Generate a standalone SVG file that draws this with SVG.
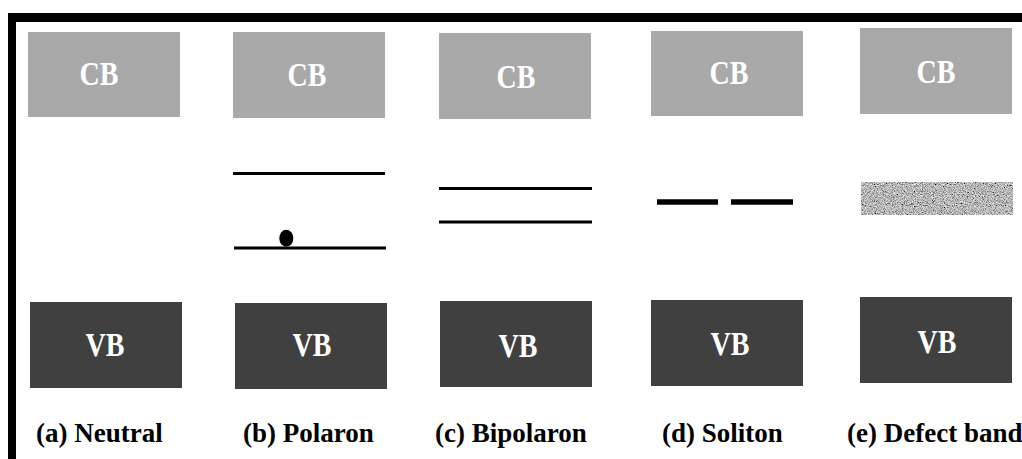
<svg xmlns="http://www.w3.org/2000/svg" width="1022" height="459" viewBox="0 0 1022 459">
<style>
.cb{fill:#a9a9a9}
.vb{fill:#404040}
.bt{font-family:"Liberation Serif","Times New Roman",serif;font-weight:bold;font-size:28px;fill:#ffffff;text-anchor:middle}
.lbl{font-family:"Liberation Serif","Times New Roman",serif;font-weight:bold;font-size:27px;fill:#000000}
.lv{stroke:#000000;stroke-width:3;fill:none}
.sol{stroke:#000000;stroke-width:5.5;fill:none}
</style>
<defs>
<filter id="noise" x="0" y="0" width="100%" height="100%">
<feTurbulence type="fractalNoise" baseFrequency="0.9" numOctaves="2" seed="7" result="t"/>
<feColorMatrix in="t" type="matrix" values="1.5 0 0 0 -0.28  1.5 0 0 0 -0.28  1.5 0 0 0 -0.28  0 0 0 0 1" result="g"/>
<feComposite in="g" in2="SourceGraphic" operator="in"/>
</filter>
</defs>
<rect width="1022" height="459" fill="#ffffff"/>
<g id="frame">
<rect x="8" y="13" width="1014" height="9" fill="#000000"/>
<rect x="8" y="13" width="8" height="446" fill="#000000"/>
</g>
<g id="cb-a"><rect class="cb" x="28" y="32" width="152" height="85"/><text class="bt" transform="translate(99,85) scale(1,1.18)">CB</text></g>
<g id="cb-b"><rect class="cb" x="233" y="32" width="152" height="86"/><text class="bt" transform="translate(307,86) scale(1,1.18)">CB</text></g>
<g id="cb-c"><rect class="cb" x="439" y="33" width="152" height="86"/><text class="bt" transform="translate(516,88) scale(1,1.18)">CB</text></g>
<g id="cb-d"><rect class="cb" x="651" y="31" width="152" height="85"/><text class="bt" transform="translate(729,84) scale(1,1.18)">CB</text></g>
<g id="cb-e"><rect class="cb" x="860" y="28" width="152" height="86"/><text class="bt" transform="translate(936,82.5) scale(1,1.18)">CB</text></g>
<g id="vb-a"><rect class="vb" x="30" y="302" width="152" height="86"/><text class="bt" transform="translate(105,356) scale(1,1.18)">VB</text></g>
<g id="vb-b"><rect class="vb" x="235" y="303" width="152" height="86"/><text class="bt" transform="translate(312,356) scale(1,1.18)">VB</text></g>
<g id="vb-c"><rect class="vb" x="440" y="301" width="152" height="86"/><text class="bt" transform="translate(518,356.5) scale(1,1.18)">VB</text></g>
<g id="vb-d"><rect class="vb" x="651" y="300" width="152" height="86"/><text class="bt" transform="translate(730,355) scale(1,1.18)">VB</text></g>
<g id="vb-e"><rect class="vb" x="860" y="297" width="152" height="86"/><text class="bt" transform="translate(937,352.5) scale(1,1.18)">VB</text></g>
<g id="levels-b">
<line class="lv" x1="233" y1="173.5" x2="385" y2="173.5"/>
<line class="lv" x1="234" y1="248" x2="386" y2="248"/>
<ellipse cx="286.3" cy="238.3" rx="7" ry="8.5" fill="#000000"/>
</g>
<g id="levels-c">
<line class="lv" x1="439" y1="188.5" x2="592" y2="188.5"/>
<line class="lv" x1="439" y1="222" x2="592" y2="222"/>
</g>
<g id="levels-d">
<line class="sol" x1="657" y1="202" x2="718" y2="202"/>
<line class="sol" x1="731" y1="202" x2="793" y2="202"/>
</g>
<g id="levels-e">
<rect x="861" y="182" width="152" height="33" fill="#aaaaaa" filter="url(#noise)"/>
</g>
<g id="labels">
<text class="lbl" x="36" y="442">(a) Neutral</text>
<text class="lbl" x="243" y="442">(b) Polaron</text>
<text class="lbl" x="435" y="442">(c) Bipolaron</text>
<text class="lbl" x="662" y="442">(d) Soliton</text>
<text class="lbl" x="847" y="442">(e) Defect band</text>
</g>
</svg>
